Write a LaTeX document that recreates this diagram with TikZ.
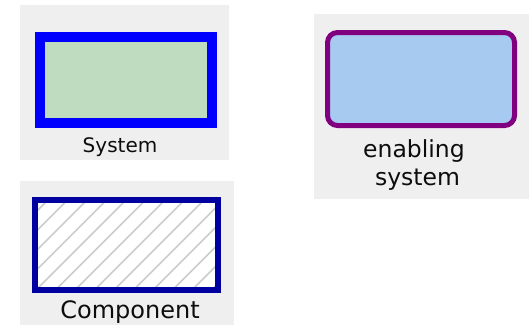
\documentclass[tikz,border=0pt]{standalone}
\usepackage{fontspec}
\setmainfont{DejaVu Sans}
\begin{document}
\begin{tikzpicture}[x=1pt,y=-1pt,
  panel/.style={fill=panelgray,draw=none},
  boxshape/.style={rectangle,inner sep=0pt,outer sep=0pt},
  lbl/.style={anchor=base,inner sep=0pt,text=black!95},
  hatchline/.style={draw=hatchgray,line width=1.6pt}]
\definecolor{panelgray}{HTML}{EFEFEF}
\definecolor{sysgreen}{HTML}{C0DCC0}
\definecolor{sysblue}{HTML}{0000FF}
\definecolor{enpurple}{HTML}{800080}
\definecolor{enblue}{HTML}{A6CAF0}
\definecolor{compnavy}{HTML}{0000A0}
\definecolor{hatchgray}{HTML}{CCCCCC}
\useasboundingbox (0,0) rectangle (529,325);
\fill[white] (0,0) rectangle (529,325);

% grey tiles behind each symbol
\path[panel] (20,5) rectangle (229,160);
\path[panel] (314,14) rectangle (529,199);
\path[panel] (20,181) rectangle (234,325);

% system
\node[boxshape,draw=sysblue,fill=sysgreen,line width=10pt,
      minimum width=172pt,minimum height=86pt] (sys) at (126,80) {};
\node[lbl,font=\fontsize{20}{20}\selectfont] (syslbl) at (120,152) {System};

% enabling system
\node[boxshape,draw=enpurple,fill=enblue,line width=5pt,rounded corners=10pt,
      minimum width=187pt,minimum height=93pt] (ens) at (421,79) {};
\node[lbl,font=\fontsize{23.5}{23.5}\selectfont] (enslbl1) at (414,157) {enabling};
\node[lbl,font=\fontsize{23.5}{23.5}\selectfont] (enslbl2) at (417.5,185) {system};

% component, hatched
\node[boxshape,fill=white,minimum width=183pt,minimum height=90pt] (comp) at (126.5,245) {};
\begin{scope}
  \clip (comp.south west) rectangle (comp.north east);
  \foreach \k in {-14,...,6}
    \draw[hatchline] ({243+19.5*\k-120},320) -- ({243+19.5*\k+120},80);
\end{scope}
\node[boxshape,draw=compnavy,line width=6pt,
      minimum width=183pt,minimum height=90pt] (compframe) at (126.5,245) {};
\node[lbl,font=\fontsize{24}{24}\selectfont] (complbl) at (130,318) {Component};
\end{tikzpicture}
\end{document}
